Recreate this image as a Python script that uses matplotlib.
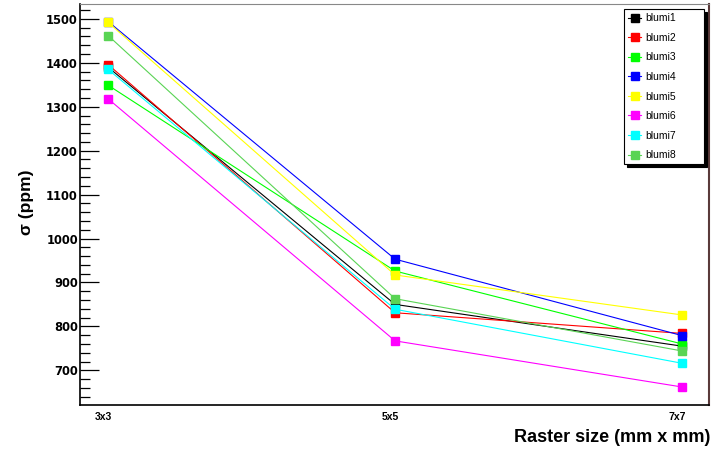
import matplotlib
matplotlib.use("Agg")
import matplotlib.pyplot as plt
from matplotlib.transforms import ScaledTranslation

categories = ["3x3", "5x5", "7x7"]
series_names = ["blumi1", "blumi2", "blumi3", "blumi4", "blumi5", "blumi6", "blumi7", "blumi8"]
blumi1 = [1390, 850, 755]
blumi2 = [1396, 831, 784]
blumi3 = [1349, 926, 760]
blumi4 = [1494, 953, 779]
blumi5 = [1492, 917, 826]
blumi6 = [1318, 767, 662]
blumi7 = [1385, 839, 716]
blumi8 = [1462, 863, 744]
values = [blumi1, blumi2, blumi3, blumi4, blumi5, blumi6, blumi7, blumi8]
colors = ["#000000", "#ff0000", "#00ff00", "#0000ff", "#ffff00", "#ff00ff", "#00ffff", "#59d454"]

W, H = 711, 453
fig = plt.figure(figsize=(W / 100, H / 100), dpi=100)
L, R, T, B = 80, 709, 3.5, 405
ax = fig.add_axes([L / W, 1 - B / H, (R - L) / W, (B - T) / H])

xs = list(range(len(categories)))
for name, vals, c in zip(series_names, values, colors):
    ax.plot(xs, vals, color=c, lw=0.8, marker="s", ms=6, mec=c, mfc=c, label=name)

ax.set_xlim(-0.098, 2.094)
ax.set_ylim(621, 1535)
ax.set_xticks(xs)
ax.set_xticklabels(categories)
ax.set_yticks([700, 800, 900, 1000, 1100, 1200, 1300, 1400, 1500])
ax.set_yticks(range(640, 1535, 20), minor=True)
ax.tick_params(axis="y", which="major", direction="in", length=14, width=0.9, pad=1.5)
ax.tick_params(axis="y", which="minor", direction="in", length=7, width=0.9)
ax.tick_params(axis="x", length=0, pad=5)
for lab in ax.get_yticklabels():
    lab.set_fontfamily("DejaVu Sans")
    lab.set_fontweight("bold")
    lab.set_fontsize(8.3)
shift = ScaledTranslation(-0.05, 0, fig.dpi_scale_trans)
for lab in ax.get_xticklabels():
    lab.set_fontfamily("Liberation Sans")
    lab.set_fontweight("bold")
    lab.set_fontsize(7.5)
    lab.set_transform(lab.get_transform() + shift)

for s in ["left", "bottom"]:
    ax.spines[s].set_linewidth(1.2)
ax.spines["top"].set_color("#888888")
ax.spines["top"].set_linewidth(0.8)
ax.spines["right"].set_color("#5a3a3a")
ax.spines["right"].set_linewidth(1.5)

fig.text(26 / W, 1 - 202 / H, "σ (ppm)", rotation=90, ha="center", va="center",
         fontsize=12.5, fontweight="bold", family=["Liberation Sans", "DejaVu Sans"])
fig.text(710 / W, 1 - 437 / H, "Raster size (mm x mm)", ha="right", va="center",
         fontsize=13, fontweight="bold", family="Liberation Sans")

lx0 = (624 - L) / (R - L)
lx1 = (704 - L) / (R - L)
ly1 = (B - 9) / (B - T)
ly0 = (B - 161) / (B - T)
leg = ax.legend(loc="upper left", bbox_to_anchor=(lx0, ly0, lx1 - lx0, ly1 - ly0), mode="expand",
                borderaxespad=0, fancybox=False, shadow={"color": "black", "alpha": 1},
                edgecolor="black", framealpha=1, prop={"family": "Liberation Sans", "size": 7.5},
                labelspacing=0.92, handlelength=1.25, handletextpad=0.4, borderpad=0.4)
leg.get_frame().set_linewidth(0.8)

fig.savefig("out.png", dpi=100)
